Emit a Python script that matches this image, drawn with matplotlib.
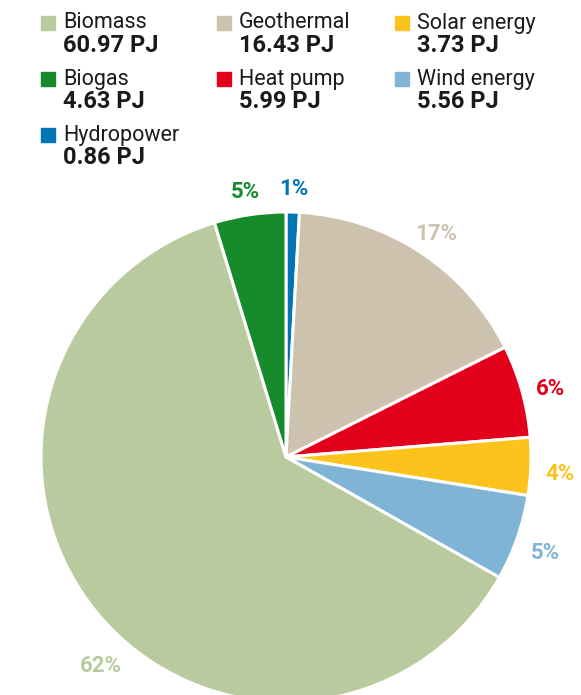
import matplotlib
matplotlib.use("Agg")
import numpy as np
import matplotlib.pyplot as plt
from matplotlib.patches import Rectangle

# energy sources, clockwise from 12 o'clock
sources = ["Hydropower", "Geothermal", "Heat pump", "Solar energy", "Wind energy", "Biomass", "Biogas"]
values_pj = [0.86, 16.43, 5.99, 3.73, 5.56, 60.97, 4.63]
colors = ["#0075b3", "#cdc2ae", "#e2001a", "#fbc31c", "#7fb4d6", "#b9ca9e", "#178a2b"]

# legend order (row by row, three columns)
legend_order = ["Biomass", "Geothermal", "Solar energy", "Biogas", "Heat pump", "Wind energy", "Hydropower"]

plt.rcParams["font.family"] = ["Roboto", "DejaVu Sans"]


# percentages that add up to 100 (largest remainder)
def rounded_shares(vals):
    raw = np.array(vals) / sum(vals) * 100
    out = np.floor(raw).astype(int)
    rest = 100 - out.sum()
    for i in np.argsort(-(raw - out))[:rest]:
        out[i] += 1
    return out


shares = rounded_shares(values_pj)

W, H = 581, 695
cx, cy, r = 286, H - 457, 245
fig = plt.figure(figsize=(W / 100, H / 100), dpi=100)
ax = fig.add_axes([0, 0, 1, 1])

wedges, texts, pcts = ax.pie(
    values_pj, colors=colors, startangle=90, counterclock=False,
    center=(cx, cy), radius=r, autopct="%1.0f%%", pctdistance=1.12,
    wedgeprops=dict(edgecolor="white", linewidth=2.2), frame=True,
)
ax.set_xlim(0, W)
ax.set_ylim(0, H)
ax.set_aspect("equal")
ax.axis("off")

for w, t, c, s, name in zip(wedges, pcts, colors, shares, sources):
    t.set_text(f"{s}%")
    t.set_color(c)
    t.set_fontsize(16)
    t.set_fontweight("bold")
    frac = 0.54 if name == "Biomass" else 0.5
    ang = np.deg2rad(w.theta1 + frac * (w.theta2 - w.theta1))
    t.set_position((cx + 1.12 * r * np.cos(ang), cy + 1.12 * r * np.sin(ang) - 6))

# legend
col_x = [41, 217, 395]
row_y = [23, 79, 135]
for i, name in enumerate(legend_order):
    k = sources.index(name)
    x = col_x[i % 3]
    y = H - row_y[i // 3]
    ax.add_patch(Rectangle((x, y - 7), 14, 14, color=colors[k], clip_on=False))
    ax.text(x + 22, y, name, fontsize=15.5, va="center", ha="left", color="#1a1a1a")
    ax.text(x + 22, y - 22, f"{values_pj[k]:.2f} PJ", fontsize=17, fontweight="bold",
            va="center", ha="left", color="#1a1a1a")

fig.savefig("out.png", dpi=100)
